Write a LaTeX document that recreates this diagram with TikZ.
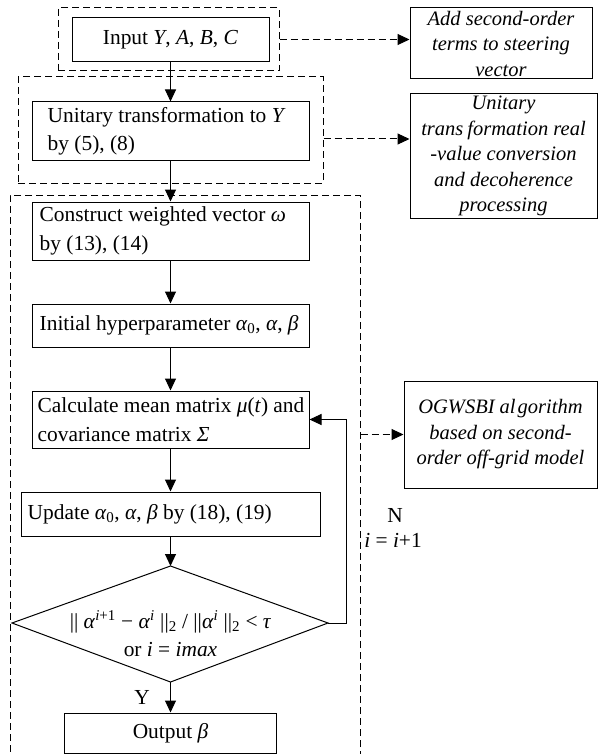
\documentclass[tikz,border=0pt]{standalone}
\usepackage{fontspec}
\setmainfont{Liberation Serif}
\usetikzlibrary{arrows.meta,calc}
\newcommand\mfont{\fontsize{21.4}{28.5}\selectfont}
\newcommand\ifont{\fontsize{20.5}{25.5}\selectfont\itshape}
\begin{document}
\begin{tikzpicture}[x=1pt,y=-1pt,
  box/.style={draw, line width=1pt, inner sep=0pt},
  dbox/.style={draw, line width=1pt, dash pattern=on 7pt off 4pt, inner sep=0pt},
  txt/.style={inner sep=0pt, align=left, font=\mfont},
  ctxt/.style={inner sep=0pt, align=center, font=\mfont},
  note/.style={draw, line width=1pt, inner sep=0pt, align=center, font=\ifont},
  arr/.style={line width=1pt, -{Triangle[length=12pt,width=11pt]}},
  darr/.style={arr, dash pattern=on 7pt off 4pt}]
\useasboundingbox (0,0) rectangle (598,754);

% dashed groups
\node[dbox, minimum width=221pt, minimum height=63pt] (g1) at (168.5,39.5) {};
\node[dbox, minimum width=305pt, minimum height=106pt] (g2) at (170.5,130) {};
\node[dbox, minimum width=350pt, minimum height=565pt] (g3) at (185,477.5) {};

% main boxes
\node[box, minimum width=197pt, minimum height=44pt, font=\mfont] (in) at (170.5,40) {Input \textit{Y}, \textit{A}, \textit{B}, \textit{C}};
\node[box, minimum width=277pt, minimum height=59pt] (un) at (170.5,131.5) {};
\node[txt, anchor=west] (unt) at ([xshift=16pt]un.west) {Unitary transformation to \textit{Y}\\by (5), (8)};
\node[box, minimum width=277pt, minimum height=58pt] (con) at (170.5,231) {};
\node[txt, anchor=west] (cont) at ([xshift=8pt]con.west) {Construct weighted vector \textit{ω}\\by (13), (14)};
\node[box, minimum width=277pt, minimum height=43pt] (ini) at (170.5,325.5) {};
\node[txt, anchor=west] (init) at ([xshift=8pt]ini.west) {Initial hyperparameter \textit{α}\textsubscript{0}, \textit{α}, \textit{β}};
\node[box, minimum width=277pt, minimum height=57pt] (cal) at (170.5,419.5) {};
\node[txt, anchor=west] (calt) at ([xshift=6pt]cal.west) {Calculate mean matrix \textit{μ}(\textit{t}) and\\covariance matrix \textit{Σ}};
\node[box, minimum width=299pt, minimum height=44pt] (upd) at (170.5,514) {};
\node[txt, anchor=west] (updt) at ([xshift=7pt]upd.west) {Update \textit{α}\textsubscript{0}, \textit{α}, \textit{β} by (18), (19)};

% decision
\coordinate (dT) at (170.5,566);
\coordinate (dR) at (328,623);
\coordinate (dB) at (170.5,682);
\coordinate (dL) at (12,623);
\draw[line width=1pt] (dT) -- (dR) -- (dB) -- (dL) -- cycle;
\node[ctxt] (dtxt) at (170.5,634) {|| \textit{α}\textsuperscript{\textit{i}+1} − \textit{α}\textsuperscript{\textit{i}} ||\textsubscript{2} / ||\textit{α}\textsuperscript{\textit{i}} ||\textsubscript{2} < \textit{τ}\\or \textit{i} = \textit{imax}};

\node[box, minimum width=212pt, minimum height=40pt, font=\mfont] (out) at (170.5,733) {Output \textit{β}};

% right notes
\node[note, minimum width=182pt, minimum height=71pt] (A) at (501,43.5) {Add second-order\\terms to steering\\vector};
\node[note, minimum width=187pt, minimum height=124pt] (B) at (503.5,156) {Unitary\\trans\hspace{0.2em}formation real\\-value conversion\\and decoherence\\processing};
\node[note, minimum width=193pt, minimum height=107pt] (C) at (500.5,434.5) {OGWSBI al\hspace{0.1em}gorithm\\based on second-\\order off-grid model};

% labels
\node[ctxt] (ylab) at (142,697) {Y};
\node[ctxt] (nlab) at (395,515) {N};
\node[ctxt] (ilab) at (393,540) {\textit{i} = \textit{i}+1};

% connectors
\draw[arr] (in.south) -- (un.north);
\draw[arr] (un.south) -- (con.north);
\draw[arr] (con.south) -- (ini.north);
\draw[arr] (ini.south) -- (cal.north);
\draw[arr] (cal.south) -- (upd.north);
\draw[arr] (upd.south) -- (dT);
\draw[arr] (dB) -- (out.north);
\coordinate (lp) at (346,419.5);
\draw[arr] (dR) -| (lp) -- (cal.east);

\coordinate (g2a) at ($(g2.east)+(0,9)$);
\draw[darr] (g1.east) -- (g1.east -| A.west);
\draw[darr] (g2a) -- (g2a -| B.west);
\draw[darr] (g3.east |- C.west) -- (C.west);
\end{tikzpicture}
\end{document}
